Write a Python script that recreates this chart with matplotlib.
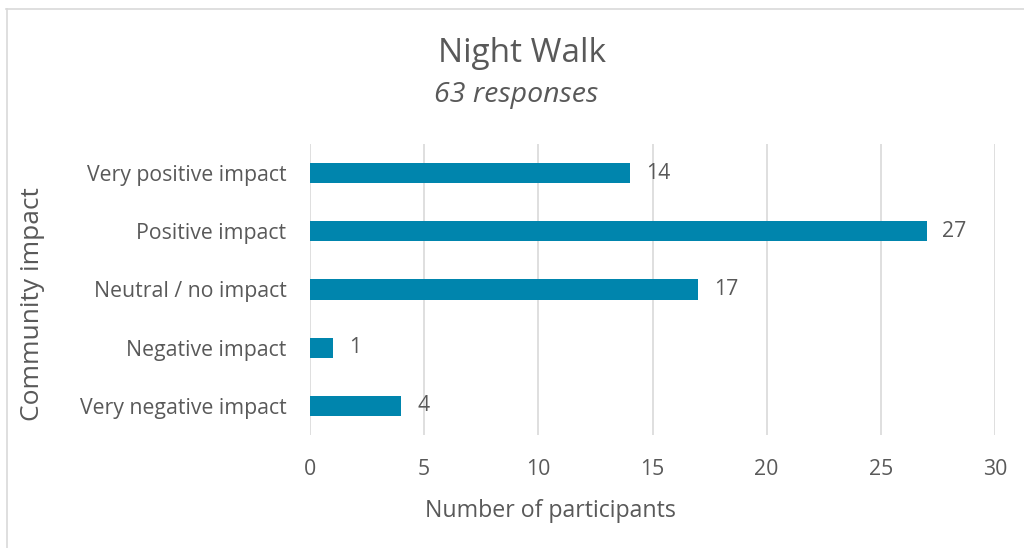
import matplotlib
matplotlib.use("Agg")
import matplotlib.pyplot as plt
from matplotlib.lines import Line2D

# data (top to bottom as shown)
categories = ["Very positive impact", "Positive impact", "Neutral / no impact",
              "Negative impact", "Very negative impact"]
counts = [14, 27, 17, 1, 4]
x_ticks = [0, 5, 10, 15, 20, 25, 30]

title = "Night Walk"
subtitle = "63 responses"
x_label = "Number of participants"
y_label = "Community impact"

TEXT = "#595959"
GRID = "#D9D9D9"
BAR = "#0085AD"

plt.rcParams["font.family"] = ["Open Sans", "DejaVu Sans"]

fig = plt.figure(figsize=(10.24, 5.48), dpi=100)
ax = fig.add_axes([310 / 1024, 1 - 435 / 548, 685 / 1024, 291 / 548])

ypos = list(range(len(categories)))[::-1]
ax.barh(ypos, counts, height=0.345, color=BAR, zorder=3)
for y, v in zip(ypos, counts):
    ax.text(v + 0.7, y, str(v), va="center", ha="left", fontsize=15.3, color=TEXT)

ax.set_xlim(0, 30)
ax.set_ylim(-0.5, len(categories) - 0.5)
ax.set_xticks(x_ticks)
ax.set_yticks(ypos)
ax.set_yticklabels(categories)
ax.tick_params(axis="both", length=0, labelsize=15.3, colors=TEXT)
ax.tick_params(axis="x", pad=17)
ax.tick_params(axis="y", pad=17)
ax.xaxis.grid(True, color=GRID, linewidth=1.2, zorder=0)
for s in ax.spines.values():
    s.set_visible(False)

# axis titles placed in figure pixels to match the reference
fig.text(550 / 1024, 1 - 511 / 548, x_label, ha="center", va="center",
         fontsize=16.7, color=TEXT)
fig.text(33 / 1024, 1 - 304 / 548, y_label, ha="center", va="center",
         rotation=90, fontsize=19, color=TEXT)

fig.text(522 / 1024, 1 - 53 / 548, title, ha="center", va="center",
         fontsize=24, color=TEXT)
fig.text(516 / 1024, 1 - 95 / 548, subtitle, ha="center", va="center",
         fontsize=20.5, style="italic", color=TEXT)

# chart frame (only top and left edges are visible)
fig.add_artist(Line2D([6 / 1024, 1], [1 - 9 / 548] * 2, color=GRID, linewidth=1.2))
fig.add_artist(Line2D([7 / 1024] * 2, [0, 1 - 9 / 548], color=GRID, linewidth=1.2))

fig.savefig("out.png", dpi=100)
plt.close(fig)
